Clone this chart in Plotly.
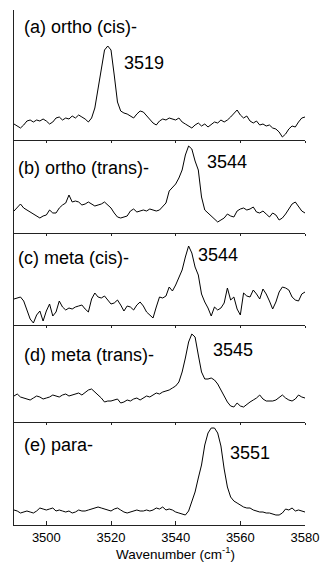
import plotly.graph_objects as go

wavenumber = list(range(3490, 3581))

ortho_cis = [16, 14, 12, 15, 19, 20, 18, 20, 19, 21, 19, 16, 18, 22, 23, 20, 22, 21, 24, 22,
             25, 23, 21, 18, 22, 32, 50, 72, 90, 94, 90, 65, 38, 29, 27, 26, 24, 22, 26, 29,
             28, 24, 20, 17, 15, 19, 21, 20, 22, 21, 20, 22, 18, 16, 14, 12, 15, 17, 14, 16,
             13, 16, 18, 17, 20, 18, 20, 23, 26, 30, 25, 22, 24, 19, 17, 19, 15, 16, 14, 15,
             12, 11, 8, 3, 6, 11, 14, 13, 18, 22, 23]

ortho_trans = [22, 25, 29, 25, 23, 21, 19, 17, 15, 17, 18, 23, 20, 20, 25, 28, 30, 38, 31, 32,
               31, 28, 29, 31, 29, 27, 28, 29, 31, 28, 25, 20, 16, 15, 16, 17, 22, 24, 21, 22,
               23, 22, 24, 23, 22, 23, 26, 30, 42, 46, 49, 55, 63, 78, 87, 84, 72, 63, 36, 23,
               20, 17, 13, 11, 13, 15, 19, 17, 16, 22, 24, 25, 23, 24, 26, 21, 20, 22, 19, 16,
               20, 18, 13, 15, 19, 24, 29, 31, 26, 22, 20]

meta_cis = [26, 27, 28, 24, 15, 6, 2, 10, 14, 4, 14, 21, 9, 13, 24, 18, 15, 17, 16, 18,
            19, 20, 16, 13, 26, 32, 28, 27, 29, 25, 21, 22, 25, 20, 14, 19, 18, 15, 20, 23,
            19, 13, 10, 7, 18, 28, 27, 29, 38, 34, 40, 47, 55, 68, 79, 72, 58, 50, 31, 23,
            17, 9, 18, 15, 17, 22, 37, 25, 28, 16, 10, 32, 29, 28, 35, 31, 26, 36, 31, 24,
            16, 23, 33, 38, 37, 35, 28, 25, 24, 31, 33]

meta_trans = [26, 28, 25, 24, 23, 22, 24, 26, 25, 23, 24, 25, 27, 26, 25, 27, 28, 26, 27, 28,
              29, 27, 30, 32, 33, 30, 28, 24, 20, 21, 21, 22, 23, 19, 20, 22, 21, 23, 24, 22,
              24, 26, 25, 27, 29, 28, 30, 31, 32, 34, 36, 40, 50, 64, 80, 88, 85, 67, 50, 43,
              43, 44, 42, 38, 32, 26, 20, 16, 15, 19, 16, 15, 18, 20, 22, 24, 27, 23, 21, 21,
              21, 22, 25, 27, 24, 22, 21, 23, 27, 25, 24]

para = [15, 14, 12, 13, 14, 13, 12, 14, 17, 16, 15, 16, 17, 14, 15, 14, 13, 14, 12, 13,
        15, 14, 14, 15, 16, 17, 18, 17, 16, 15, 14, 16, 17, 15, 13, 12, 13, 14, 15, 14,
        14, 15, 14, 15, 17, 16, 18, 15, 16, 15, 13, 12, 11, 10, 14, 23, 33, 47, 60, 80,
        92, 97, 97, 92, 79, 56, 38, 28, 24, 22, 20, 18, 17, 17, 15, 14, 13, 13, 12, 12,
        11, 10, 10, 12, 16, 15, 17, 14, 15, 14, 13]

series = [ortho_cis, ortho_trans, meta_cis, meta_trans, para]
panel_names = ["(a) ortho (cis)-", "(b) ortho (trans)-", "(c) meta (cis)-",
               "(d) meta (trans)-", "(e) para-"]
peak_labels = ["3519", "3544", "3544", "3545", "3551"]
tick_values = [3500, 3520, 3540, 3560, 3580]
x_title = "Wavenumber (cm<sup>-1</sup>)"

# layout geometry
panel_heights = [130, 93, 92, 97, 103]
plot_h = sum(panel_heights)
name_pos = [(3492.5, 113), (3490.6, 65), (3490.6, 67), (3492.5, 67), (3492.5, 80)]
peak_pos = [(3523.5, 77), (3549.0, 71), (3546.2, 70), (3550.8, 72), (3556.3, 72)]

FONT = "Liberation Sans, Arial, Helvetica, sans-serif"
LINEC = "#222222"

fig = go.Figure()
layout = dict(
    width=322, height=563,
    margin=dict(l=14, r=17, t=10, b=38, autoexpand=False),
    paper_bgcolor="white", plot_bgcolor="white",
    showlegend=False,
    font=dict(family=FONT, color="black"),
)

annotations = []
for i, ys in enumerate(series):
    h = panel_heights[i]
    cum_above = sum(panel_heights[:i])
    d_top = 1 - cum_above / plot_h
    d_bot = 1 - (cum_above + h) / plot_h
    n = i + 1
    xa = "x" if n == 1 else f"x{n}"
    ya = "y" if n == 1 else f"y{n}"
    fig.add_trace(go.Scatter(x=wavenumber, y=ys, mode="lines",
                             line=dict(color="black", width=1),
                             xaxis=xa, yaxis=ya, hoverinfo="skip"))
    last = (n == 5)
    layout["xaxis" if n == 1 else f"xaxis{n}"] = dict(
        domain=[0, 1], anchor=ya, range=[3490, 3580], automargin=False,
        showline=True, linecolor=LINEC, linewidth=1,
        showgrid=False, zeroline=False,
        tickvals=tick_values,
        ticks="inside" if last else "outside", ticklen=4 if last else 2,
        tickcolor=LINEC, tickwidth=1,
        showticklabels=last,
        tickfont=dict(size=13, family=FONT, color="black"),
    )
    layout["yaxis" if n == 1 else f"yaxis{n}"] = dict(
        domain=[d_bot, d_top], anchor=xa, range=[0, h], automargin=False,
        showline=True, linecolor=LINEC, linewidth=1,
        showgrid=False, zeroline=False, showticklabels=False, ticks="",
    )
    annotations.append(dict(x=name_pos[i][0], y=name_pos[i][1], xref=xa, yref=ya,
                            text=panel_names[i], showarrow=False, xanchor="left",
                            yanchor="middle", font=dict(size=18, family=FONT, color="black")))
    annotations.append(dict(x=peak_pos[i][0], y=peak_pos[i][1], xref=xa, yref=ya,
                            text=peak_labels[i], showarrow=False, xanchor="left",
                            yanchor="middle", font=dict(size=18, family=FONT, color="black")))

annotations.append(dict(x=3540, y=0, xref="x5", yref="paper", yshift=-28,
                        text=x_title, showarrow=False, xanchor="center", yanchor="middle",
                        font=dict(size=13.5, family=FONT, color="black")))

layout["annotations"] = annotations
fig.update_layout(**layout)
fig.write_html("out.html", config={"displayModeBar": False, "staticPlot": True},
               post_script="document.body.style.margin='0';document.body.style.overflow='hidden';")
